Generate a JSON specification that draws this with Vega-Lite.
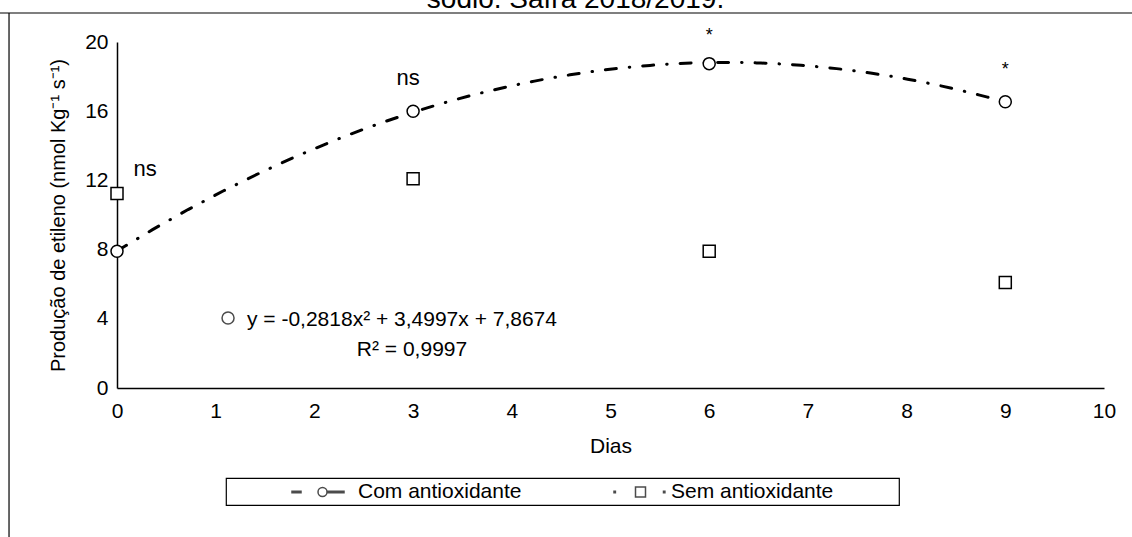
{
  "$schema": "https://vega.github.io/schema/vega-lite/v6.json",
  "width": 987,
  "height": 346,
  "autosize": {"type": "none"},
  "padding": {"left": 117, "top": 42, "right": 28, "bottom": 149},
  "background": "white",
  "title": {"text": "sódio. Safra 2018/2019.", "font": "Liberation Sans", "fontSize": 28, "fontWeight": "normal", "color": "black", "anchor": "middle", "baseline": "alphabetic", "offset": 0, "dx": -35, "dy": 24},
  "config": {
    "view": {"stroke": null},
    "font": "Liberation Sans",
    "axis": {"domainColor": "black", "domainWidth": 1.5, "ticks": false, "grid": false, "labelOverlap": false, "labelFont": "Liberation Sans", "labelFontSize": 21, "labelColor": "black", "titleFont": "Liberation Sans", "titleFontSize": 21, "titleFontWeight": "normal", "titleColor": "black", "format": "d"},
    "legend": {"strokeColor": "black", "strokeWidth": 1.2, "padding": 3, "labelFont": "Liberation Sans", "labelFontSize": 21, "labelColor": "black", "labelLimit": 400}
  },
  "datasets": {
    "pontos": [
      {"dia": 0, "producao": 7.9, "serie": "Com antioxidante"},
      {"dia": 3, "producao": 16.0, "serie": "Com antioxidante"},
      {"dia": 6, "producao": 18.75, "serie": "Com antioxidante"},
      {"dia": 9, "producao": 16.55, "serie": "Com antioxidante"},
      {"dia": 0, "producao": 11.25, "serie": "Sem antioxidante"},
      {"dia": 3, "producao": 12.1, "serie": "Sem antioxidante"},
      {"dia": 6, "producao": 7.9, "serie": "Sem antioxidante"},
      {"dia": 9, "producao": 6.1, "serie": "Sem antioxidante"}
    ],
    "notas": [
      {"dia": 0.284, "producao": 12.27, "rotulo": "ns", "tipo": "ns"},
      {"dia": 2.95, "producao": 17.53, "rotulo": "ns", "tipo": "ns"},
      {"dia": 6.0, "producao": 20.03, "rotulo": "*", "tipo": "asterisco"},
      {"dia": 9.0, "producao": 18.07, "rotulo": "*", "tipo": "asterisco"},
      {"dia": 1.317, "producao": 3.61, "rotulo": "y = -0,2818x² + 3,4997x + 7,8674", "tipo": "equacao"},
      {"dia": 2.43, "producao": 1.87, "rotulo": "R² = 0,9997", "tipo": "equacao"},
      {"dia": 1.125, "producao": 4.05, "rotulo": "", "tipo": "marcador"}
    ]
  },
  "layer": [
    {
      "data": {"name": "pontos"},
      "transform": [
        {"filter": "datum.serie === 'Com antioxidante'"},
        {"regression": "producao", "on": "dia", "method": "poly", "order": 2}
      ],
      "mark": {"type": "line", "color": "black", "strokeWidth": 3, "strokeDash": [11, 13, 0.5, 13], "strokeCap": "round"},
      "encoding": {
        "x": {"field": "dia", "type": "quantitative", "scale": {"domain": [0, 10], "nice": false, "zero": false}, "axis": {"title": "Dias", "values": [0, 1, 2, 3, 4, 5, 6, 7, 8, 9, 10], "labelPadding": 12, "titlePadding": 14, "labelFlush": false, "labelAngle": 0, "labelOverlap": false}},
        "y": {"field": "producao", "type": "quantitative", "scale": {"domain": [0, 20], "nice": false, "zero": false}, "axis": {"title": "Produção de etileno (nmol Kg⁻¹ s⁻¹)", "titleFontSize": 20, "values": [0, 2, 4, 6, 8, 10, 12, 14, 16, 18, 20], "labelPadding": 9, "titlePadding": 16, "labelOverlap": false}}
      }
    },
    {
      "data": {"name": "pontos"},
      "mark": {"type": "point", "filled": true, "fill": "white", "stroke": "black", "strokeWidth": 1.5, "size": 144, "opacity": 1},
      "encoding": {
        "x": {"field": "dia", "type": "quantitative"},
        "y": {"field": "producao", "type": "quantitative"},
        "shape": {"field": "serie", "type": "nominal", "scale": {"domain": ["Com antioxidante", "Sem antioxidante"], "range": ["circle", "square"]}, "legend": null}
      }
    },
    {
      "data": {"name": "pontos"},
      "transform": [{"filter": "datum.dia < -100"}],
      "mark": {"type": "point", "filled": false, "color": "black", "strokeWidth": 1.5},
      "encoding": {
        "x": {"field": "dia", "type": "quantitative"},
        "y": {"field": "producao", "type": "quantitative"},
        "shape": {"field": "serie", "type": "nominal", "scale": {"domain": ["Com antioxidante", "Sem antioxidante"], "range": [
          "M-9.4,0 M-3.05,-0.07L-2.15,-0.07L-2.15,0.07L-3.05,0.07Z M0.45,-0.07L2.15,-0.07L2.15,0.07L0.45,0.07Z M0.45,0A0.45 0.45 0 1 1 -0.45,0A0.45 0.45 0 1 1 0.45,0Z",
          "M-2.15,-0.07L-2.01,-0.07L-2.01,0.07L-2.15,0.07Z M0,-0.5L1,-0.5L1,0.5L0,0.5Z M2.8,-0.07L2.94,-0.07L2.94,0.07L2.8,0.07Z M25.7,0"
        ]}, "legend": {"title": null, "orient": "none", "legendX": 109, "legendY": 436, "direction": "horizontal", "symbolSize": 400, "symbolStrokeWidth": 1.5, "symbolStrokeColor": "black", "symbolOffset": 82.5, "labelOffset": 24.5, "columnPadding": 20, "labelLimit": 400}}
      }
    },
    {
      "data": {"name": "notas"},
      "transform": [{"filter": "datum.tipo === 'marcador'"}],
      "mark": {"type": "point", "shape": "circle", "filled": true, "fill": "white", "stroke": "black", "strokeWidth": 1.5, "size": 144},
      "encoding": {
        "x": {"field": "dia", "type": "quantitative"},
        "y": {"field": "producao", "type": "quantitative"}
      }
    },
    {
      "data": {"name": "notas"},
      "transform": [{"filter": "datum.tipo === 'ns'"}],
      "mark": {"type": "text", "font": "Liberation Sans", "fontSize": 22, "color": "black", "align": "center", "baseline": "alphabetic", "clip": false},
      "encoding": {
        "x": {"field": "dia", "type": "quantitative"},
        "y": {"field": "producao", "type": "quantitative"},
        "text": {"field": "rotulo"}
      }
    },
    {
      "data": {"name": "notas"},
      "transform": [{"filter": "datum.tipo === 'asterisco'"}],
      "mark": {"type": "text", "font": "Liberation Sans", "fontSize": 18, "color": "black", "align": "center", "baseline": "alphabetic", "clip": false},
      "encoding": {
        "x": {"field": "dia", "type": "quantitative"},
        "y": {"field": "producao", "type": "quantitative"},
        "text": {"field": "rotulo"}
      }
    },
    {
      "data": {"name": "notas"},
      "transform": [{"filter": "datum.tipo === 'equacao'"}],
      "mark": {"type": "text", "font": "Liberation Sans", "fontSize": 21, "color": "black", "align": "left", "baseline": "alphabetic"},
      "encoding": {
        "x": {"field": "dia", "type": "quantitative"},
        "y": {"field": "producao", "type": "quantitative"},
        "text": {"field": "rotulo"}
      }
    },
    {
      "data": {"values": [{}]},
      "mark": {"type": "rule", "color": "black", "strokeWidth": 1.2, "clip": false},
      "encoding": {
        "x": {"datum": -1.094, "type": "quantitative"},
        "y": {"datum": 21.676, "type": "quantitative"},
        "y2": {"datum": -12}
      }
    },
    {
      "data": {"values": [{}]},
      "mark": {"type": "rule", "color": "black", "strokeWidth": 1.2, "clip": false},
      "encoding": {
        "x": {"datum": -1.3, "type": "quantitative"},
        "x2": {"datum": 10.5},
        "y": {"datum": 21.676, "type": "quantitative"}
      }
    }
  ],
  "resolve": {"scale": {"shape": "independent"}}
}
